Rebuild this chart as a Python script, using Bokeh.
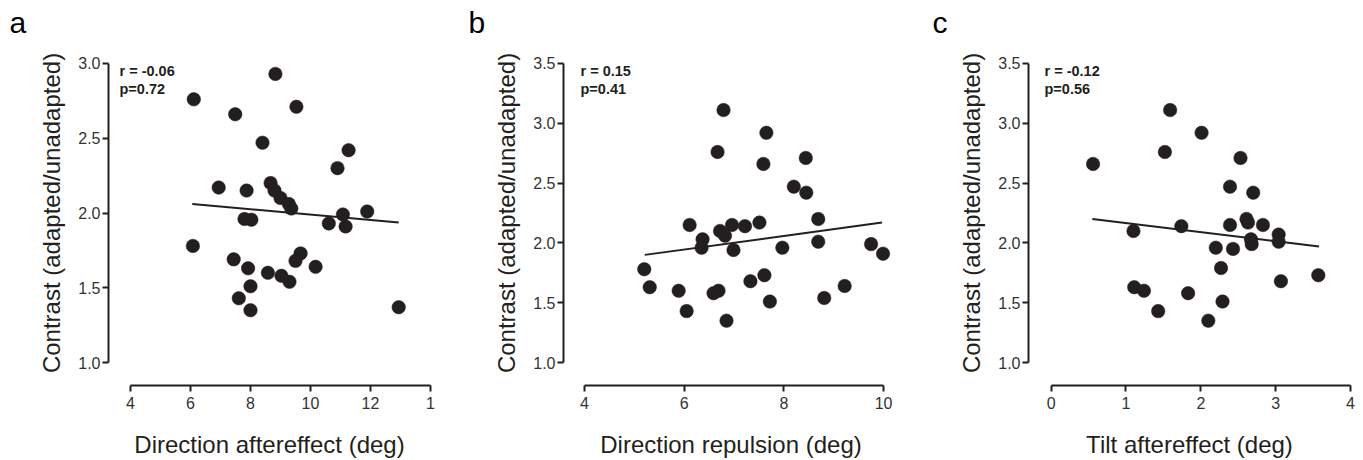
from bokeh.plotting import figure
from bokeh.layouts import row
from bokeh.models import Range1d, FixedTicker, Label
from bokeh.embed import file_html
from bokeh.resources import INLINE

# ---------------- data ----------------
# Panel a: direction aftereffect vs contrast ratio
a_x = [8.83, 6.11, 9.53, 7.49, 8.40, 11.27, 10.90, 6.94, 7.87, 8.67, 8.80, 9.00,
       9.28, 9.36, 11.89, 11.08, 10.61, 11.17, 7.80, 8.03, 6.08, 7.44, 7.92, 9.67,
       9.50, 10.17, 8.58, 9.03, 9.30, 8.00, 7.61, 8.00, 12.94]
a_y = [2.93, 2.76, 2.71, 2.66, 2.47, 2.42, 2.30, 2.17, 2.15, 2.20, 2.15, 2.10,
       2.06, 2.03, 2.01, 1.99, 1.93, 1.91, 1.96, 1.955, 1.78, 1.69, 1.63, 1.73,
       1.68, 1.64, 1.60, 1.58, 1.54, 1.51, 1.43, 1.35, 1.37]
a_fit_x = [6.06, 12.94]
a_fit_y = [2.06, 1.937]
a_xticks = [4, 6, 8, 10, 12, 14]
a_yticks = [1.0, 1.5, 2.0, 2.5, 3.0]

# Panel b: direction repulsion vs contrast ratio
b_x = [6.79, 7.65, 6.67, 8.44, 7.59, 8.20, 8.45, 8.69, 6.11, 7.51, 7.22, 6.96,
       6.72, 6.82, 6.37, 6.35, 6.99, 7.97, 8.69, 9.75, 9.99, 5.20, 5.31, 5.89,
       6.05, 6.59, 6.69, 6.85, 7.33, 7.61, 7.72, 8.81, 9.22]
b_y = [3.11, 2.92, 2.76, 2.71, 2.66, 2.47, 2.42, 2.20, 2.15, 2.17, 2.14, 2.15,
       2.10, 2.06, 2.03, 1.96, 1.94, 1.96, 2.01, 1.99, 1.91, 1.78, 1.63, 1.60,
       1.43, 1.58, 1.60, 1.35, 1.68, 1.73, 1.51, 1.54, 1.64]
b_fit_x = [5.21, 9.97]
b_fit_y = [1.90, 2.17]
b_xticks = [4, 6, 8, 10]
b_yticks = [1.0, 1.5, 2.0, 2.5, 3.0, 3.5]

# Panel c: tilt aftereffect vs contrast ratio
c_x = [1.59, 2.01, 1.52, 2.53, 0.56, 2.39, 2.70, 2.61, 2.63, 2.39, 2.83, 1.74,
       1.10, 3.04, 2.67, 2.68, 3.04, 2.20, 2.43, 2.27, 3.07, 3.57, 1.11, 1.24,
       1.43, 1.83, 2.29, 2.10]
c_y = [3.11, 2.92, 2.76, 2.71, 2.66, 2.47, 2.42, 2.20, 2.17, 2.15, 2.15, 2.14,
       2.10, 2.07, 2.03, 1.99, 2.01, 1.96, 1.95, 1.79, 1.68, 1.73, 1.63, 1.60,
       1.43, 1.58, 1.51, 1.35]
c_fit_x = [0.55, 3.58]
c_fit_y = [2.20, 1.97]
c_xticks = [0, 1, 2, 3, 4]
c_yticks = [1.0, 1.5, 2.0, 2.5, 3.0, 3.5]

letters = ["a", "b", "c"]
x_labels = ["Direction aftereffect (deg)", "Direction repulsion (deg)", "Tilt aftereffect (deg)"]
y_label = "Contrast (adapted/unadapted)"
r_texts = ["r = -0.06", "r = 0.15", "r = -0.12"]
p_texts = ["p=0.72", "p=0.41", "p=0.56"]

# ---------------- style ----------------
INK = "#231f20"
FONT = "Liberation Sans"
H = 460
TOP, BOTTOM = 40, 74
FH = H - TOP - BOTTOM          # frame height (px)
PAD = 63 - TOP                 # frame space above the top tick (px)


def panel(letter, xs, ys, fx, fy, xr, xb, xticks, xover, ytop, ppu, yticks,
          xlabel, rt, pt, width, bl, br, tdx, ldx):
    y_end = ytop + PAD / ppu
    p = figure(width=width, height=H, output_backend="svg", toolbar_location=None,
               x_range=Range1d(*xr), y_range=Range1d(y_end - FH / ppu, y_end),
               min_border_left=bl, min_border_right=br,
               min_border_top=TOP, min_border_bottom=BOTTOM)
    p.grid.visible = False
    p.outline_line_color = None
    p.background_fill_color = "white"
    p.border_fill_color = "white"

    p.title.text = letter
    p.title.align = "left"
    p.title.vertical_align = "bottom"
    p.title.offset = ldx
    p.title.standoff = 4
    p.title.text_font = FONT
    p.title.text_font_size = "30px"
    p.title.text_font_style = "normal"
    p.title.text_color = "#000000"

    for ax in (p.xaxis[0], p.yaxis[0]):
        ax.axis_line_width = 2
        ax.axis_line_color = INK
        ax.major_tick_line_width = 2
        ax.major_tick_line_color = INK
        ax.major_tick_out = 6
        ax.major_tick_in = 0
        ax.minor_tick_line_color = None
        ax.major_label_text_font = FONT
        ax.major_label_text_font_size = "16px"
        ax.major_label_text_color = "#333333"
        ax.axis_label_text_font = FONT
        ax.axis_label_text_font_size = "24px"
        ax.axis_label_text_font_style = "normal"
        ax.axis_label_text_color = INK

    p.xaxis.bounds = xb
    p.xaxis.ticker = FixedTicker(ticks=xticks)
    p.xaxis.major_label_overrides = xover
    p.xaxis.major_label_standoff = 5
    p.xaxis.axis_label = xlabel
    p.xaxis.axis_label_standoff = 19

    p.yaxis.bounds = (yticks[0], yticks[-1])
    p.yaxis.ticker = FixedTicker(ticks=yticks)
    p.yaxis.major_label_overrides = {t: f"{t:.1f}" for t in yticks}
    p.yaxis.major_label_standoff = 2
    p.yaxis.axis_label = y_label
    p.yaxis.axis_label_standoff = 10

    p.line(fx, fy, line_color=INK, line_width=2)
    p.scatter(xs, ys, size=13.5, fill_color=INK, line_color=INK, line_width=0.5)

    p.add_layout(Label(x=tdx, y=315, x_units="screen", y_units="screen",
                       text=rt, text_font=FONT, text_font_size="14.5px",
                       text_font_style="bold", text_color=INK,
                       text_baseline="alphabetic"))
    p.add_layout(Label(x=tdx, y=296.5, x_units="screen", y_units="screen",
                       text=pt, text_font=FONT, text_font_size="14.5px",
                       text_font_style="bold", text_color=INK,
                       text_baseline="alphabetic"))
    return p


pa = panel(letters[0], a_x, a_y, a_fit_x, a_fit_y,
           (4 - 22 / 30, 14), (4, 14), a_xticks, {14: "1"},
           3.0, 150, a_yticks,
           x_labels[0], r_texts[0], p_texts[0], 457, 108, 27, 11, -99)
pb = panel(letters[1], b_x, b_y, b_fit_x, b_fit_y,
           (4 - 21 / 50, 10.3), (4, 10), b_xticks, {},
           3.5, 120, b_yticks,
           x_labels[1], r_texts[1], p_texts[1], 449, 106, 8, 17, -95)
pc = panel(letters[2], c_x, c_y, c_fit_x, c_fit_y,
           (-22.7 / 75, 4), (0, 4), c_xticks, {},
           3.5, 120, c_yticks,
           x_labels[2], r_texts[2], p_texts[2], 457, 122, 13, 16, -96)

layout = row(pa, pb, pc)
open("out.html", "w").write(file_html(layout, INLINE))
